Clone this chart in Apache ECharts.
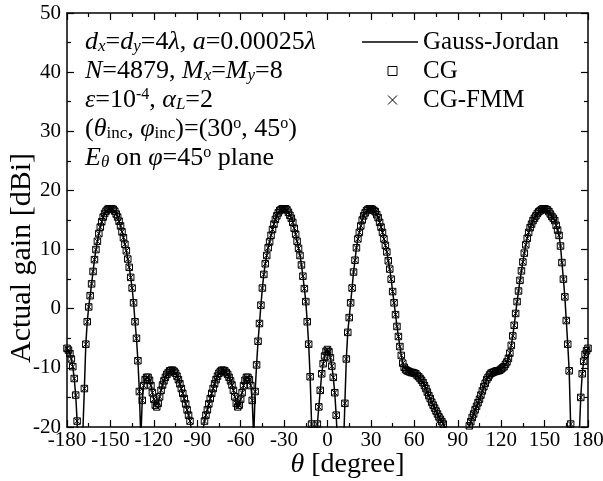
<!DOCTYPE html>
<html>
<head>
<meta charset="utf-8">
<script src="https://cdn.jsdelivr.net/npm/echarts@6/dist/echarts.min.js"></script>
<style>
html, body { margin: 0; padding: 0; background: #fff; }
#chart { width: 603px; height: 481px; }
</style>
</head>
<body>
<div id="chart"></div>
<script>
// θ axis: one sample per degree, -180 .. 180
const thetaStart = -180
const thetaStep = 1
const xMin = -180, xMax = 180, xInterval = 30
const yMin = -20, yMax = 50, yInterval = 10

// actual gain [dBi] (values below -20 are clipped nulls)
const gaussJordan = [
  -6.7, -7.0, -7.6, -8.5, -9.8, -11.8, -14.6, -19.0, -26, -34,      // -180
  -27, -20.5, -13.5, -6.0, -2.2, 0.3, 2.2, 4.2, 6.3, 8.3,           // -170
  10.0, 11.4, 12.7, 13.8, 14.7, 15.5, 16.1, 16.5, 16.8, 16.9,       // -160
  16.9, 16.9, 16.8, 16.5, 16.0, 15.5, 14.8, 14.0, 13.0, 12.0,       // -150
  10.9, 9.8, 8.4, 7.0, 5.3, 3.5, 1.0, -2.2, -5.0, -8.8,             // -140
  -14.0, -22, -15.5, -13.0, -12.0, -11.6, -11.6, -12.1, -13.0, -14.2, // -130
  -15.3, -16.3, -16.6, -16.0, -14.9, -13.8, -12.9, -12.2, -11.6, -11.1, // -120
  -10.8, -10.5, -10.4, -10.4, -10.6, -10.9, -11.4, -12.0, -12.7, -13.5, // -110
  -14.3, -15.2, -16.1, -17.1, -18.0, -19.0, -20.5, -23, -27, -30,   // -100
  -31, -30, -27, -23, -20.5, -19.0, -18.0, -17.1, -16.1, -15.2,     // -90
  -14.3, -13.5, -12.7, -12.0, -11.4, -10.9, -10.6, -10.4, -10.4, -10.5, // -80
  -10.8, -11.1, -11.6, -12.2, -12.9, -13.8, -14.9, -16.0, -16.6, -16.3, // -70
  -15.3, -14.2, -13.0, -12.1, -11.6, -11.6, -12.0, -13.0, -15.5, -22, // -60
  -14.0, -9.5, -5.5, -2.5, 0.6, 3.5, 5.8, 7.6, 9.0, 10.3,           // -50
  11.3, 12.4, 13.4, 14.3, 15.1, 15.7, 16.2, 16.6, 16.8, 16.9,       // -40
  16.9, 16.9, 16.7, 16.3, 15.8, 15.3, 14.6, 13.6, 12.6, 11.4,       // -30
  10.2, 9.0, 7.4, 5.5, 3.4, 1.2, -2.2, -6.0, -11.5, -19.5,          // -20
  -28, -31, -24, -19.5, -16.6, -13.8, -11.0, -9.3, -8.0, -7.2,      // -10
  -6.9, -7.3, -8.3, -9.7, -11.6, -14.2, -18.0, -23, -28, -32,       // 0
  -30, -24, -16.0, -8.5, -4.0, -1.5, 1.0, 3.5, 6.2, 8.2,            // 10
  10.3, 11.8, 12.9, 14.0, 15.0, 15.7, 16.2, 16.6, 16.8, 16.9,       // 20
  16.9, 16.8, 16.6, 16.4, 15.9, 15.4, 14.6, 13.8, 12.9, 11.8,       // 30
  10.7, 9.6, 8.1, 6.7, 5.0, 2.9, 1.0, -1.0, -3.0, -4.7,             // 40
  -6.4, -7.9, -9.2, -9.9, -10.3, -10.5, -10.6, -10.7, -10.8, -10.8, // 50
  -10.9, -11.0, -11.3, -11.5, -11.8, -12.1, -12.5, -13.0, -13.5, -14.1, // 60
  -14.7, -15.2, -15.8, -16.3, -16.8, -17.3, -17.8, -18.3, -18.7, -19.1, // 70
  -19.5, -20.2, -22, -24, -26, -28, -30, -31, -32, -32,             // 80
  -32, -32, -31, -30, -28, -26, -24, -21.5, -19.8, -19.1,           // 90
  -18.4, -17.8, -17.1, -16.5, -15.9, -15.3, -14.6, -13.9, -13.2, -12.6, // 100
  -12.0, -11.6, -11.2, -10.9, -10.8, -10.7, -10.6, -10.5, -10.5, -10.4, // 110
  -10.2, -10.0, -9.8, -9.4, -9.0, -8.4, -7.5, -6.2, -4.6, -2.8,     // 120
  -0.8, 1.2, 3.0, 4.8, 6.4, 7.9, 9.4, 10.8, 11.9, 12.9,             // 130
  13.7, 14.3, 14.9, 15.3, 15.7, 16.1, 16.4, 16.6, 16.8, 16.9,       // 140
  16.9, 16.8, 16.7, 16.4, 16.0, 15.6, 15.3, 14.9, 14.1, 13.3,       // 150
  12.4, 10.6, 7.8, 5.0, 2.0, -2.0, -6.0, -10.5, -19.5, -27,         // 160
  -33, -34, -30, -25, -21, -15.0, -11.0, -8.9, -7.7, -7.1,          // 170
  -6.7                                                              // 180
]
// CG and CG-FMM lie on top of the Gauss-Jordan curve
const cg = gaussJordan
const cgFmm = gaussJordan

const serif = '"Liberation Serif", "Times New Roman", serif'
const squarePath = 'path://M0,0H10V10H0Z'
const crossPath = 'path://M0,0L10,10M10,0L0,10'

function toPairs (arr) {
  return arr.map((v, i) => [thetaStart + i * thetaStep, v])
}

const chart = echarts.init(document.getElementById('chart'))

const tickStyle = { color: '#000', width: 1.2 }
function makeAxis (min, max, interval, pos, withLabels) {
  return {
    type: 'value',
    position: pos,
    min: min,
    max: max,
    interval: interval,
    nameMoveOverlap: false,
    axisLine: { show: true, onZero: false, lineStyle: { color: '#000', width: 1.5 } },
    axisTick: { show: true, inside: true, length: 7, lineStyle: tickStyle },
    minorTick: { show: true, splitNumber: 2, length: 4, lineStyle: tickStyle },
    splitLine: { show: false },
    axisLabel: {
      show: withLabels,
      color: '#000',
      fontFamily: serif,
      fontSize: 21
    }
  }
}

const xBottom = makeAxis(xMin, xMax, xInterval, 'bottom', true)
xBottom.axisLabel.margin = 3
xBottom.name = '{t|θ} [degree]'
xBottom.nameLocation = 'middle'
xBottom.nameGap = 24
xBottom.nameTextStyle = {
  color: '#000', fontFamily: serif, fontSize: 28,
  padding: [0, 0, 0, 40],
  rich: { t: { fontStyle: 'italic', fontFamily: serif, fontSize: 28, color: '#000' } }
}
const xTop = makeAxis(xMin, xMax, xInterval, 'top', false)

const yLeft = makeAxis(yMin, yMax, yInterval, 'left', true)
yLeft.axisLabel.margin = 6
yLeft.name = 'Actual gain [dBi]'
yLeft.nameLocation = 'middle'
yLeft.nameGap = 30
yLeft.nameTextStyle = { color: '#000', fontFamily: serif, fontSize: 30, padding: [0, 76, 0, 0] }
const yRight = makeAxis(yMin, yMax, yInterval, 'right', false)

const fs = 26
const rich = {
  i: { fontFamily: serif, fontSize: fs, fontStyle: 'italic', color: '#000', lineHeight: 29 },
  n: { fontFamily: serif, fontSize: fs, color: '#000', lineHeight: 29 },
  si: { fontFamily: serif, fontSize: 17, fontStyle: 'italic', color: '#000', lineHeight: 19, padding: [10, 0, 0, 0] },
  sn: { fontFamily: serif, fontSize: 17, color: '#000', lineHeight: 19, padding: [10, 0, 0, 0] },
  sup: { fontFamily: serif, fontSize: 16, color: '#000', lineHeight: 19, padding: [0, 0, 10, 0] }
}

const legendText = { color: '#000', fontFamily: serif, fontSize: 25, lineHeight: 29 }
// marker legends: icon centred under the middle of the line sample, text pushed to the same start
const markerLegendText = Object.assign({}, legendText, { padding: [0, 0, 0, 21] })
const markerStyle = { color: 'rgba(0,0,0,0)', borderColor: '#000', borderWidth: 1 }

const option = {
  animation: false,
  backgroundColor: '#fff',
  grid: { left: 67, right: 15, top: 13, bottom: 54, outerBoundsMode: 'none', containLabel: false },
  title: {
    left: 85,
    top: 27.5,
    padding: 0,
    text: [
      '{i|d}{si|x}{n|=}{i|d}{si|y}{n|=4}{i|λ}{n|, }{i|a}{n|=0.00025}{i|λ}',
      '{i|N}{n|=4879, }{i|M}{si|x}{n|=}{i|M}{si|y}{n|=8}',
      '{i|ε}{n|=10}{sup|-4}{n|, }{i|α}{si|L}{n|=2}',
      '{n|(}{i|θ}{sn|inc}{n|, }{i|φ}{sn|inc}{n|)=(30}{sup|o}{n|, 45}{sup|o}{n|)}',
      '{i|E}{si|θ}{n| on }{i|φ}{n|=45}{sup|o}{n| plane}'
    ].join('\n'),
    textStyle: { fontFamily: serif, fontSize: fs, fontWeight: 'normal', color: '#000', lineHeight: 29, rich: rich }
  },
  legend: [
    {
      data: [{ name: 'Gauss-Jordan', icon: 'rect' }],
      left: 362, top: 27.5, padding: 0,
      itemWidth: 56, itemHeight: 1.5,
      selectedMode: false,
      textStyle: legendText
    },
    {
      data: [{ name: 'CG', icon: squarePath }],
      left: 387.5, top: 56.5, padding: 0,
      itemWidth: 9, itemHeight: 9,
      selectedMode: false,
      itemStyle: markerStyle,
      textStyle: markerLegendText
    },
    {
      data: [{ name: 'CG-FMM', icon: crossPath }],
      left: 387.5, top: 85.5, padding: 0,
      itemWidth: 9, itemHeight: 9,
      selectedMode: false,
      itemStyle: markerStyle,
      textStyle: markerLegendText
    }
  ],
  xAxis: [xBottom, xTop],
  yAxis: [yLeft, yRight],
  series: [
    {
      name: 'Gauss-Jordan',
      type: 'line',
      data: toPairs(gaussJordan),
      symbol: 'none',
      clip: true,
      itemStyle: { color: '#000' },
      lineStyle: { color: '#000', width: 1.5 }
    },
    {
      name: 'CG',
      type: 'line',
      data: toPairs(cg),
      symbol: squarePath,
      symbolSize: 6.5,
      showAllSymbol: true,
      clip: true,
      itemStyle: markerStyle,
      lineStyle: { width: 0, opacity: 0 }
    },
    {
      name: 'CG-FMM',
      type: 'line',
      data: toPairs(cgFmm),
      symbol: crossPath,
      symbolSize: 6,
      showAllSymbol: true,
      clip: true,
      itemStyle: markerStyle,
      lineStyle: { width: 0, opacity: 0 }
    }
  ]
}

chart.setOption(option)
</script>
</body>
</html>
